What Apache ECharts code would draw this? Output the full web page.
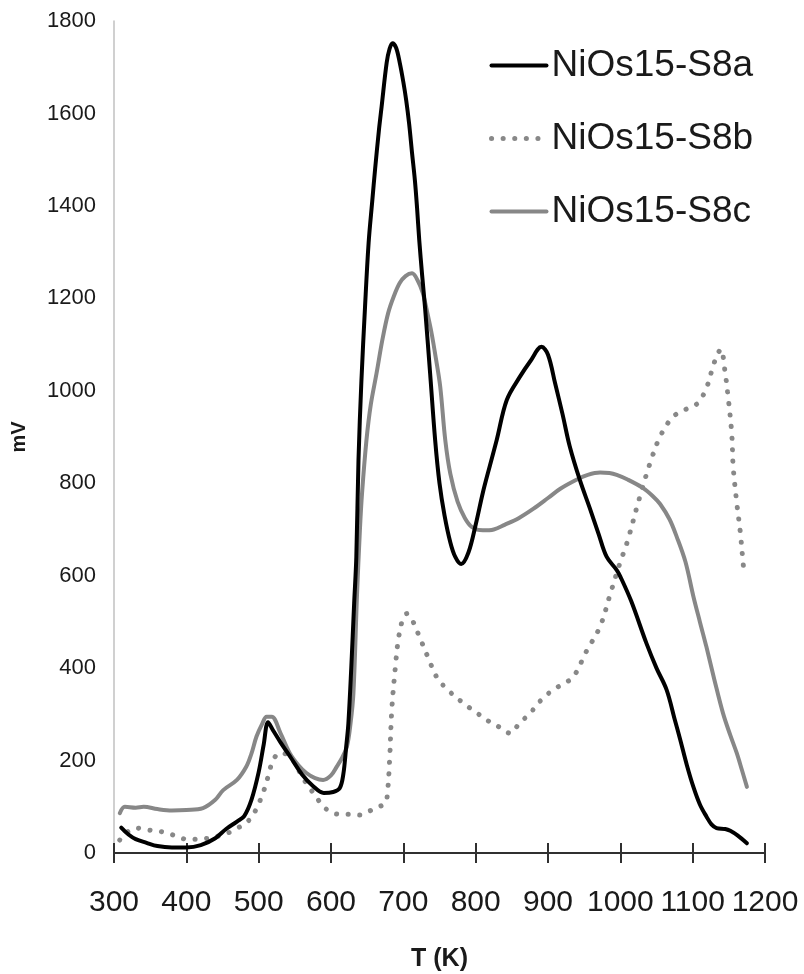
<!DOCTYPE html>
<html>
<head>
<meta charset="utf-8">
<script src="https://cdn.jsdelivr.net/npm/echarts@6/dist/echarts.min.js"></script>
<style>
  html, body { margin: 0; padding: 0; background: #fff; }
  #chart { width: 804px; height: 974px; }
</style>
</head>
<body>
<div id="chart"></div>
<script>
// Temperature (K) and signal (mV) for each sample
const tempA = [310,320,330,345,360,380,400,420,440,455,470,480,490,500,507,513,520,530,545,560,575,590,603,612,617,621,624,628,632,635,638,642,647,652,657,661,666,670,677,681,685,690,695,700,704,708,712,716,719,722,726,730,737,744,750,757,765,772,780,790,800,810,820,829,843,861,876,891,900,910,920,930,944,958,970,981,995,1000,1015,1036,1050,1064,1075,1083,1092,1101,1110,1119,1126,1133,1145,1152,1162,1175];
const mvA   = [55,40,30,22,15,12,12,17,32,52,68,80,115,175,235,283,265,240,205,170,145,130,132,140,170,230,280,400,540,640,850,1020,1180,1320,1410,1480,1560,1615,1710,1740,1752,1742,1710,1668,1628,1578,1515,1455,1395,1326,1250,1180,1038,893,800,730,672,640,625,650,710,780,840,893,980,1030,1065,1095,1078,1015,950,880,807,745,690,641,612,598,545,454,400,353,290,244,190,143,105,79,62,54,52,48,38,21];

const tempB = [308,318,331,345,360,375,390,399,415,430,445,460,472,483,495,506,513,520,530,540,550,560,571,580,590,603,615,628,640,652,663,675,678,681,684,689,693,699,705,712,723,735,746,760,783,800,815,830,848,860,875,890,907,920,935,953,972,986,1000,1009,1027,1041,1055,1073,1092,1107,1119,1128,1134,1139,1145,1149,1154,1156,1161,1166,1170,1172];
const mvB   = [28,45,54,50,48,42,35,30,30,32,37,45,55,65,90,130,165,201,217,212,195,165,140,120,100,86,84,84,82,90,98,108,130,200,309,403,461,505,518,505,465,420,381,355,324,305,288,275,259,280,302,330,353,365,381,436,490,560,630,670,771,843,901,944,961,973,1006,1052,1078,1090,1038,987,908,836,757,692,623,598];

const tempC = [308,315,330,341,360,380,400,423,440,451,470,483,490,497,505,511,518,530,543,555,566,578,589,600,608,615,622,627,631,636,640,643,649,655,663,671,679,687,695,703,712,720,727,733,739,745,751,758,765,775,785,795,810,825,840,860,880,900,917,940,955,972,985,995,1010,1031,1045,1055,1068,1078,1090,1101,1110,1119,1130,1142,1152,1161,1168,1175];
const mvC   = [86,100,98,100,95,92,93,97,115,136,158,187,215,252,280,295,295,260,216,190,173,162,158,168,187,205,230,280,346,560,700,780,893,970,1038,1110,1168,1205,1233,1248,1254,1238,1211,1170,1125,1070,1009,893,820,760,725,705,698,700,710,725,745,768,788,808,818,823,822,818,808,790,772,755,722,684,630,555,500,446,375,302,255,216,180,143];

const seriesNames = ['NiOs15-S8a', 'NiOs15-S8b', 'NiOs15-S8c'];
const xTicks = { min: 300, max: 1200, step: 100 };
const yTicks = { min: 0, max: 1800, step: 200 };

const pairs = (xs, ys) => xs.map((x, i) => [x, ys[i]]);
const plain = v => String(v);

const FONT = '"Liberation Sans", Arial, sans-serif';
const chart = echarts.init(document.getElementById('chart'), null, { renderer: 'canvas' });

const xCommon = {
  type: 'value',
  min: xTicks.min, max: xTicks.max, interval: xTicks.step,
  position: 'bottom',
  splitLine: { show: false }
};

chart.setOption({
  animation: false,
  backgroundColor: '#ffffff',
  grid: { left: 114, right: 39, top: 21, bottom: 121, containLabel: false, outerBoundsMode: 'none' },
  legend: {
    orient: 'vertical',
    left: 489, top: 47,
    padding: 0,
    itemWidth: 55, itemHeight: 14,
    itemGap: 36,
    itemTextGap: 5,
    itemStyle: { opacity: 0 },
    lineStyle: { width: 'inherit' },
    textStyle: { fontFamily: FONT, fontSize: 37, color: '#1a1a1a' },
    data: seriesNames
  },
  xAxis: [
    Object.assign({}, xCommon, {
      name: 'T (K)',
      nameLocation: 'middle',
      nameGap: 94,
      nameTextStyle: { fontFamily: FONT, fontSize: 25, fontWeight: 'bold', color: '#1a1a1a' },
      axisLine: { show: true, lineStyle: { color: '#303030', width: 2 } },
      axisTick: { show: true, inside: false, length: 10, lineStyle: { color: '#303030', width: 2 } },
      axisLabel: {
        margin: 35, fontFamily: FONT, fontSize: 30, color: '#1a1a1a',
        formatter: plain, showMinLabel: true, showMaxLabel: true, hideOverlap: false
      }
    }),
    // upper half of the crossing tick marks
    Object.assign({}, xCommon, {
      axisLine: { show: false },
      axisTick: { show: true, inside: true, length: 10, lineStyle: { color: '#303030', width: 2 } },
      axisLabel: { show: false }
    })
  ],
  yAxis: {
    type: 'value',
    min: yTicks.min, max: yTicks.max, interval: yTicks.step,
    name: 'mV',
    nameLocation: 'middle',
    nameGap: 85,
    nameRotate: 90,
    nameTextStyle: { fontFamily: FONT, fontSize: 20, fontWeight: 'bold', color: '#1a1a1a' },
    axisLine: { show: true, lineStyle: { color: '#c0c0c0', width: 1.5 } },
    axisTick: { show: false },
    splitLine: { show: false },
    axisLabel: { margin: 18, fontFamily: FONT, fontSize: 22, color: '#1a1a1a', formatter: plain }
  },
  series: [
    {
      name: seriesNames[0], type: 'line', xAxisIndex: 0,
      data: pairs(tempA, mvA),
      showSymbol: false, symbol: 'none',
      smooth: 0.35,
      lineStyle: { color: '#000000', width: 4, cap: 'round', join: 'round' },
      itemStyle: { color: '#000000' },
      z: 3
    },
    {
      name: seriesNames[1], type: 'line', xAxisIndex: 0,
      data: pairs(tempB, mvB),
      showSymbol: false, symbol: 'none',
      smooth: 0.35,
      lineStyle: { color: '#888888', width: 5, type: [0.1, 11.5], cap: 'round' },
      itemStyle: { color: '#888888' },
      z: 1
    },
    {
      name: seriesNames[2], type: 'line', xAxisIndex: 0,
      data: pairs(tempC, mvC),
      showSymbol: false, symbol: 'none',
      smooth: 0.35,
      lineStyle: { color: '#878787', width: 4, cap: 'round', join: 'round' },
      itemStyle: { color: '#878787' },
      z: 2
    }
  ]
});
</script>
</body>
</html>
